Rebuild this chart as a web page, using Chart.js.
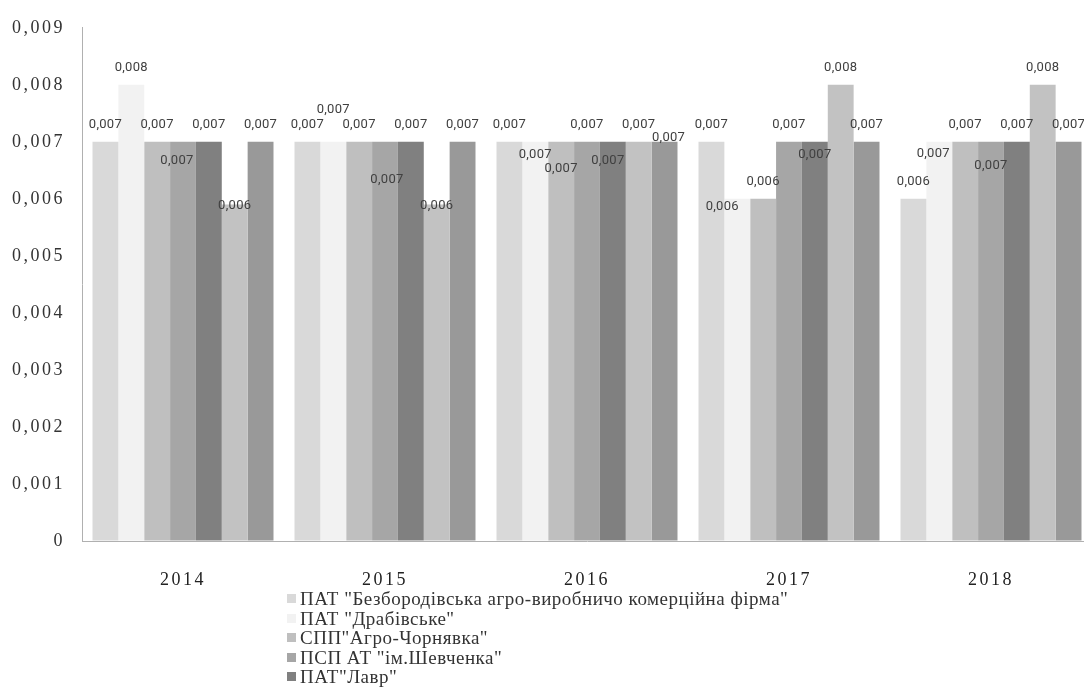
<!DOCTYPE html>
<html>
<head>
<meta charset="utf-8">
<script src="https://cdn.jsdelivr.net/npm/chart.js@4.4.1/dist/chart.umd.min.js"></script>
<style>
  html, body { margin: 0; padding: 0; background: #fff; overflow: hidden; }
  #wrap { position: relative; width: 1092px; height: 698px; }
  #legend { position: absolute; left: 287px; top: 589px; font-family: "Liberation Serif", serif; font-size: 19px; letter-spacing: 0.5px; color: #333; }
  .li { height: 19.5px; line-height: 19.5px; white-space: nowrap; display: flex; align-items: center; }
  .sw { width: 9px; height: 9px; margin-right: 4px; flex: none; }
</style>
</head>
<body>
<div id="wrap">
  <canvas id="c" width="1092" height="698"></canvas>
  <div id="legend"></div>
</div>
<script>
const years = ["2014", "2015", "2016", "2017", "2018"];
const seriesNames = [
  'ПАТ "Безбородівська агро-виробничо комерційна фірма"',
  'ПАТ "Драбівське"',
  'СПП"Агро-Чорнявка"',
  'ПСП АТ "ім.Шевченка"',
  'ПАТ"Лавр"',
  'Ряд 6',
  'Ряд 7'
];
const s1 = [0.007, 0.007, 0.007, 0.007, 0.006];
const s2 = [0.008, 0.007, 0.007, 0.006, 0.007];
const s3 = [0.007, 0.007, 0.007, 0.006, 0.007];
const s4 = [0.007, 0.007, 0.007, 0.007, 0.007];
const s5 = [0.007, 0.007, 0.007, 0.007, 0.007];
const s6 = [0.0059, 0.0059, 0.007, 0.008, 0.008];
const s7 = [0.007, 0.007, 0.007, 0.007, 0.007];
const yTicks = [0, 0.001, 0.002, 0.003, 0.004, 0.005, 0.006, 0.007, 0.008, 0.009];
const visibleLegendCount = 5;

const seriesValues = [s1, s2, s3, s4, s5, s6, s7];
const colors = ["#d9d9d9", "#f2f2f2", "#bfbfbf", "#a6a6a6", "#808080", "#c2c2c2", "#999999"];
// label nudges [year]-[series] -> [dx, dy] (Excel overlap placement)
const labelShift = {
  "0-3": [-6, 36], "0-5": [0, 18],
  "1-1": [0, -15], "1-3": [2, 55], "1-5": [0, 18],
  "2-1": [0, 30], "2-2": [0, 44], "2-4": [-5, 36], "2-6": [4, 13],
  "3-1": [-15, 25], "3-4": [0, 30],
  "4-1": [-6, 29], "4-3": [0, 41]
};

function fmt(v) { return v === 0 ? "0" : v.toFixed(3).replace(".", ","); }

const labelPlugin = {
  id: "vlabels",
  beforeDraw(chart) { chart.ctx.letterSpacing = "2.5px"; },
  afterDatasetsDraw(chart) {
    const ctx = chart.ctx;
    ctx.save();
    ctx.letterSpacing = "0.3px";
    ctx.font = "13px Roboto";
    ctx.fillStyle = "#404040";
    ctx.textAlign = "center";
    ctx.textBaseline = "middle";
    chart.data.datasets.forEach((ds, si) => {
      const meta = chart.getDatasetMeta(si);
      meta.data.forEach((el, yi) => {
        const sh = labelShift[yi + "-" + si] || [0, 0];
        ctx.fillText(fmt(ds.data[yi]), el.x + sh[0], el.y - 17 + sh[1]);
      });
    });
    ctx.restore();
  },
  beforeDatasetsDraw(chart) { chart.ctx.letterSpacing = "1.5px"; }
};

const chart = new Chart(document.getElementById("c"), {
  type: "bar",
  data: {
    labels: years,
    datasets: seriesValues.map((vals, i) => ({
      label: seriesNames[i],
      data: vals,
      backgroundColor: colors[i],
      borderWidth: 0,
      categoryPercentage: 0.896,
      barPercentage: 1.0
    }))
  },
  options: {
    responsive: false,
    animation: false,
    layout: { padding: { top: 24, right: 0, left: 0, bottom: 0 } },
    plugins: { legend: { display: false }, tooltip: { enabled: false } },
    scales: {
      x: {
        grid: { drawOnChartArea: false, drawTicks: false },
        border: { display: true, color: "#b0b0b0", width: 1 },
        ticks: { color: "#222", font: { family: "Liberation Serif", size: 18 }, padding: 28 },
        afterFit(s) { s.height = 157; }
      },
      y: {
        min: 0, max: 0.009,
        afterBuildTicks(s) { s.ticks = yTicks.map(v => ({ value: v })); },
        grid: { drawOnChartArea: false, drawTicks: false },
        border: { display: true, color: "#b0b0b0", width: 1 },
        ticks: { color: "#333", font: { family: "Liberation Serif", size: 18 }, padding: 17, callback: v => fmt(v) },
        afterFit(s) { s.width = 82; }
      }
    }
  },
  plugins: [labelPlugin]
});

const lg = document.getElementById("legend");
seriesNames.slice(0, visibleLegendCount).forEach((n, i) => {
  const d = document.createElement("div");
  d.className = "li";
  d.innerHTML = '<span class="sw" style="background:' + colors[i] + '"></span><span class="tx"></span>';
  d.querySelector(".tx").textContent = n;
  lg.appendChild(d);
});
</script>
</body>
</html>
